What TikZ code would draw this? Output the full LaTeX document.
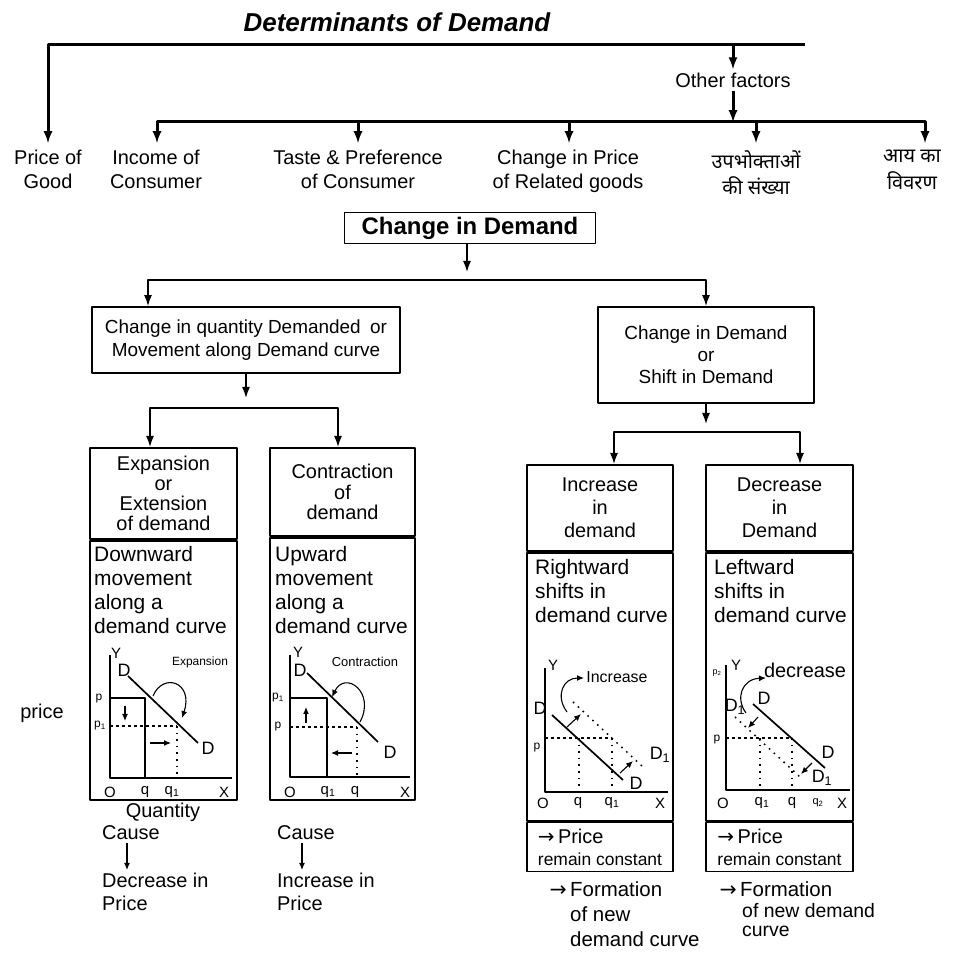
\documentclass[tikz,border=0pt]{standalone}
\usepackage{fontspec}
\setmainfont{Liberation Sans}
\newfontfamily\devafont[Script=Devanagari]{Noto Sans}
\newfontfamily\arrowfont{DejaVu Sans}
\usetikzlibrary{arrows.meta}
\begin{document}
\begin{tikzpicture}[>=latex,line join=bevel,
  thickbranch/.style={line width=3bp},
  thinbranch/.style={line width=1.5bp,>={Latex[length=11bp,width=8bp]}},
  boxed/.style={draw,line width=1.8bp,inner sep=0bp,align=center},
  factorlabel/.style={anchor=north,align=center,inner xsep=2bp,inner ysep=7bp,font=\fontsize{20}{24}\selectfont},
  bodytext/.style={anchor=north west,align=left,inner sep=0bp,font=\fontsize{21}{24}\selectfont},
  plaintext/.style={inner sep=3bp,font=\fontsize{20}{23}\selectfont},
  axisline/.style={line width=1.6bp},
  demandcurve/.style={line width=1.7bp},
  shiftedcurve/.style={line width=1.5bp,dash pattern=on 1.6bp off 5bp},
  pricelevel/.style={line width=1.4bp,dash pattern=on 3bp off 3bp},
  graphline/.style={line width=1.1bp,>={Latex[length=7bp,width=6bp]}},
  axislabel/.style={inner sep=0bp,font=\fontsize{15}{15}\selectfont},
  curvelabel/.style={inner sep=0bp,font=\fontsize{18}{18}\selectfont},
  pricelabel/.style={inner sep=0bp,font=\fontsize{12}{12}\selectfont},
  ]
\useasboundingbox (0bp,0bp) rectangle (957bp,954bp);
%% determinants
\node (node_title) at (397bp,932bp) [font=\fontsize{26}{30}\selectfont\bfseries\itshape] {Determinants of Demand};
\coordinate (top_left) at (48bp,909bp);
\coordinate (top_right) at (805bp,909bp);
\coordinate (top_other) at (733bp,909bp);
\node (node_other) at (733bp,874bp) [font=\fontsize{20}{24}\selectfont] {Other factors};
\coordinate (mid_other) at (733bp,832bp);
\coordinate (mid_left) at (157bp,832bp);
\coordinate (mid_taste) at (358bp,832bp);
\coordinate (mid_related) at (569bp,832bp);
\coordinate (mid_number) at (756bp,832bp);
\coordinate (mid_right) at (925bp,832bp);
\node (node_price) at (48bp,811bp) [factorlabel] {Price of\\Good};
\node (node_income) at (156bp,811bp) [factorlabel] {Income of\\Consumer};
\node (node_taste) at (358bp,811bp) [factorlabel] {Taste \& Preference\\of Consumer};
\node (node_related) at (568bp,811bp) [factorlabel] {Change in Price\\of Related goods};
\node (node_number) at (756bp,811bp) [factorlabel,font=\devafont\fontsize{20}{27}\selectfont] {उपभोक्ताओं\\की संख्या};
\node (node_spread) at (912bp,811bp) [factorlabel,font=\devafont\fontsize{20}{27}\selectfont] {आय का\\विवरण};
\draw [thickbranch,->] (top_right) -- (top_left) -- (node_price);
\draw [thickbranch,->] (top_other) -- (node_other);
\draw [thickbranch,->] (node_other) -- (mid_other);
\draw [thickbranch,<->] (mid_left |- node_income.north) -- (mid_left) -- (mid_right) -- (mid_right |- node_spread.north);
\draw [thickbranch,->] (mid_taste) -- (mid_taste |- node_taste.north);
\draw [thickbranch,->] (mid_related) -- (mid_related |- node_related.north);
\draw [thickbranch,->] (mid_number) -- (mid_number |- node_number.north);
%% change in demand
\node (node_change) at (470bp,726bp) [boxed,minimum width=251bp,minimum height=31bp,font=\fontsize{24}{27}\selectfont\bfseries] {Change in Demand};
\node (node_movement) at (246bp,614bp) [boxed,minimum width=308bp,minimum height=66bp,font=\fontsize{19}{23}\selectfont] {Change in quantity Demanded\enspace or\\Movement along Demand curve};
\node (node_shift) at (706bp,599bp) [boxed,minimum width=216bp,minimum height=96bp,font=\fontsize{19}{22}\selectfont] {Change in Demand\\or\\Shift in Demand};
\coordinate (change_tip) at (467bp,682bp);
\coordinate (split_a) at (148bp,674bp);
\coordinate (split_b) at (706bp,674bp);
\draw [thinbranch,->] (change_tip |- node_change.south) -- (change_tip);
\draw [thinbranch,<->] (split_a |- node_movement.north) -- (split_a) -- (split_b) -- (split_b |- node_shift.north);
%% columns
\node (node_expansion) at (163.5bp,507bp) [boxed,anchor=north,minimum width=147bp,minimum height=91bp,font=\fontsize{20}{20}\selectfont] {Expansion\\or\\Extension\\of demand};
\node (node_expansion_body) at (node_expansion.south) [boxed,anchor=north,minimum width=147bp,minimum height=259bp] {};
\node (node_contraction) at (342.5bp,507bp) [boxed,anchor=north,minimum width=145bp,minimum height=88bp,font=\fontsize{20}{21}\selectfont] {Contraction\\of\\demand};
\node (node_contraction_body) at (node_contraction.south) [boxed,anchor=north,minimum width=145bp,minimum height=262bp] {};
\node (node_increase) at (600bp,490bp) [boxed,anchor=north,minimum width=146bp,minimum height=86bp,font=\fontsize{20}{23}\selectfont] {Increase\\in\\demand};
\node (node_increase_body) at (node_increase.south) [boxed,anchor=north,minimum width=146bp,minimum height=268bp] {};
\node (node_increase_foot) at (node_increase_body.south) [boxed,anchor=north,minimum width=146bp,minimum height=49bp,align=left,font=\fontsize{17.5}{22}\selectfont] {{\fontsize{20}{22}\selectfont{\arrowfont →}\,Price}\\remain constant};
\node (node_decrease) at (779.5bp,490bp) [boxed,anchor=north,minimum width=147bp,minimum height=86bp,font=\fontsize{20}{23}\selectfont] {Decrease\\in\\Demand};
\node (node_decrease_body) at (node_decrease.south) [boxed,anchor=north,minimum width=147bp,minimum height=268bp] {};
\node (node_decrease_foot) at (node_decrease_body.south) [boxed,anchor=north,minimum width=147bp,minimum height=49bp,align=left,font=\fontsize{17.5}{22}\selectfont] {{\fontsize{20}{22}\selectfont{\arrowfont →}\,Price}\\remain constant};
\coordinate (movement_tip) at (246bp,556bp);
\coordinate (split_c) at (150bp,546bp);
\coordinate (split_d) at (338bp,546bp);
\draw [thinbranch,->] (node_movement) -- (movement_tip);
\draw [thinbranch,<->] (split_c |- node_expansion.north) -- (split_c) -- (split_d) -- (split_d |- node_contraction.north);
\coordinate (shift_tip) at (706bp,530bp);
\coordinate (split_e) at (614bp,522bp);
\coordinate (split_f) at (800bp,522bp);
\draw [thinbranch,->] (node_shift) -- (shift_tip);
\draw [thinbranch,<->] (split_e |- node_increase.north) -- (split_e) -- (split_f) -- (split_f |- node_decrease.north);
\node (node_downward) at (94bp,408bp) [bodytext] {Downward\\movement\\along a\\demand curve};
\node (node_upward) at (275bp,408bp) [bodytext] {Upward\\movement\\along a\\demand curve};
\node (node_rightward) at (535bp,395bp) [bodytext] {Rightward\\shifts in\\demand curve};
\node (node_leftward) at (714bp,395bp) [bodytext] {Leftward\\shifts in\\demand curve};
%% expansion graph
\draw [axisline] (110bp,299bp) -- (110bp,176bp) -- (232bp,176bp);
\draw [demandcurve] (110bp,256bp) -- (145bp,256bp) -- (145bp,176bp);
\draw [pricelevel] (110bp,228bp) -- (177bp,228bp);
\draw [shiftedcurve] (177bp,228bp) -- (177bp,176bp);
\draw [demandcurve] (128bp,278bp) -- (198bp,211bp);
\draw [graphline,->] (153bp,258bp) .. controls (163bp,282bp) and (194bp,272bp) .. (182bp,236bp);
\draw [graphline,->] (125bp,248bp) -- (125bp,233bp);
\draw [graphline,->] (150bp,211bp) -- (171bp,211bp);
\node (exp_Y) at (116bp,301bp) [axislabel] {Y};
\node (exp_D) at (124bp,284bp) [curvelabel] {D};
\node (exp_word) at (200bp,292bp) [pricelabel] {Expansion};
\node (exp_p) at (99bp,255bp) [pricelabel] {p};
\node (exp_p1) at (100bp,228bp) [pricelabel] {p\textsubscript{1}};
\node (exp_Dend) at (208bp,206bp) [curvelabel] {D};
\node (exp_O) at (110bp,162bp) [axislabel] {O};
\node (exp_q) at (145bp,162bp) [axislabel] {q};
\node (exp_q1) at (172bp,162bp) [axislabel] {q\textsubscript{1}};
\node (exp_X) at (224bp,162bp) [axislabel] {X};
%% contraction graph
\draw [axisline] (290bp,299bp) -- (290bp,177bp) -- (410bp,177bp);
\draw [demandcurve] (290bp,256bp) -- (327bp,256bp) -- (327bp,177bp);
\draw [pricelevel] (290bp,227bp) -- (357bp,227bp);
\draw [shiftedcurve] (357bp,227bp) -- (357bp,177bp);
\draw [demandcurve] (307bp,281bp) -- (378bp,212bp);
\draw [graphline,->] (360bp,232bp) .. controls (376bp,262bp) and (345bp,284bp) .. (332bp,257bp);
\draw [graphline,->] (306bp,231bp) -- (306bp,247bp);
\draw [graphline,->] (352bp,201bp) -- (331bp,201bp);
\node (con_Y) at (298bp,302bp) [axislabel] {Y};
\node (con_D) at (300bp,284bp) [curvelabel] {D};
\node (con_word) at (365bp,292bp) [pricelabel,font=\fontsize{13}{13}\selectfont] {Contraction};
\node (con_p1) at (278bp,256bp) [pricelabel] {p\textsubscript{1}};
\node (con_p) at (278bp,227bp) [pricelabel] {p};
\node (con_Dend) at (390bp,202bp) [curvelabel] {D};
\node (con_O) at (290bp,162bp) [axislabel] {O};
\node (con_q1) at (328bp,162bp) [axislabel] {q\textsubscript{1}};
\node (con_q) at (355bp,162bp) [axislabel] {q};
\node (con_X) at (405bp,162bp) [axislabel] {X};
%% increase graph
\draw [axisline] (545bp,286bp) -- (545bp,162bp) -- (668bp,162bp);
\draw [demandcurve] (552bp,239bp) -- (623bp,174bp);
\draw [shiftedcurve] (573bp,252bp) -- (643bp,187bp);
\draw [pricelevel] (545bp,216bp) -- (612bp,216bp);
\draw [shiftedcurve] (579bp,216bp) -- (579bp,162bp);
\draw [shiftedcurve] (612bp,216bp) -- (612bp,162bp);
\draw [graphline,->] (567bp,227bp) -- (581bp,240bp);
\draw [graphline,->] (620bp,181bp) -- (633bp,193bp);
\draw [graphline,->] (567bp,242bp) .. controls (555bp,258bp) and (563bp,276bp) .. (584bp,276bp);
\node (inc_Y) at (553bp,289bp) [axislabel] {Y};
\node (inc_word) at (617bp,277bp) [inner sep=0bp,font=\fontsize{16}{16}\selectfont] {Increase};
\node (inc_D) at (540bp,246bp) [curvelabel] {D};
\node (inc_D1) at (660bp,199bp) [curvelabel] {D\textsubscript{1}};
\node (inc_Dend) at (636bp,171bp) [curvelabel] {D};
\node (inc_p) at (537bp,206bp) [pricelabel] {p};
\node (inc_O) at (543bp,151bp) [axislabel] {O};
\node (inc_q) at (578bp,151bp) [axislabel] {q};
\node (inc_q1) at (612bp,151bp) [axislabel] {q\textsubscript{1}};
\node (inc_X) at (660bp,151bp) [axislabel] {X};
%% decrease graph
\draw [axisline] (726bp,289bp) -- (726bp,164bp) -- (850bp,164bp);
\draw [demandcurve] (753bp,250bp) -- (825bp,186bp);
\draw [shiftedcurve] (735bp,237bp) -- (800bp,177bp);
\draw [pricelevel] (726bp,216bp) -- (792bp,216bp);
\draw [shiftedcurve] (760bp,216bp) -- (760bp,164bp);
\draw [shiftedcurve] (792bp,216bp) -- (792bp,164bp);
\draw [graphline,->] (758bp,237bp) -- (748bp,226bp);
\draw [graphline,->] (812bp,191bp) -- (801bp,180bp);
\draw [graphline,->] (746bp,241bp) .. controls (735bp,256bp) and (742bp,275bp) .. (766bp,276bp);
\node (dec_Y) at (736bp,289bp) [axislabel] {Y};
\node (dec_p2) at (717bp,281bp) [inner sep=0bp,font=\fontsize{9}{9}\selectfont] {p\textsubscript{2}};
\node (dec_word) at (805bp,284bp) [inner sep=0bp,font=\fontsize{20}{20}\selectfont] {decrease};
\node (dec_D1) at (735bp,247bp) [curvelabel] {D\textsubscript{1}};
\node (dec_D) at (764bp,256bp) [curvelabel] {D};
\node (dec_Dend) at (828bp,202bp) [curvelabel] {D};
\node (dec_D1end) at (822bp,176bp) [curvelabel] {D\textsubscript{1}};
\node (dec_p) at (717bp,214bp) [pricelabel] {p};
\node (dec_O) at (723bp,151bp) [axislabel] {O};
\node (dec_q1) at (762bp,151bp) [axislabel] {q\textsubscript{1}};
\node (dec_q) at (792bp,151bp) [axislabel] {q};
\node (dec_q2) at (818bp,151bp) [inner sep=0bp,font=\fontsize{11}{11}\selectfont] {q\textsubscript{2}};
\node (dec_X) at (842bp,151bp) [axislabel] {X};
%% notes under the columns
\node (node_price_axis) at (42bp,241bp) [plaintext] {price};
\node (node_quantity) at (163bp,142bp) [plaintext] {Quantity};
\node (node_cause_fall) at (99bp,121bp) [plaintext,anchor=west] {Cause};
\node (node_fall) at (99bp,84bp) [plaintext,anchor=north west,align=left] {Decrease in\\Price};
\draw [graphline,->] ([xshift=-4bp]node_cause_fall.south) -- ([xshift=-4bp]node_cause_fall.south |- node_fall.north);
\node (node_cause_rise) at (274bp,121bp) [plaintext,anchor=west] {Cause};
\node (node_rise) at (274bp,84bp) [plaintext,anchor=north west,align=left] {Increase in\\Price};
\draw [graphline,->] ([xshift=-4bp]node_cause_rise.south) -- ([xshift=-4bp]node_cause_rise.south |- node_rise.north);
\node (node_formation_a) at (570bp,72bp) [bodytext,font=\fontsize{20.5}{25}\selectfont] {\llap{{\arrowfont →}\,}Formation\\of new\\demand curve};
\node (node_formation_b) at (740bp,72bp) [bodytext,font=\fontsize{20.5}{25}\selectfont] {\llap{{\arrowfont →}\,}Formation};
\node (node_formation_c) at (742bp,51bp) [bodytext,font=\fontsize{19.5}{19}\selectfont] {of new demand\\curve};
%
\end{tikzpicture}
\end{document}
